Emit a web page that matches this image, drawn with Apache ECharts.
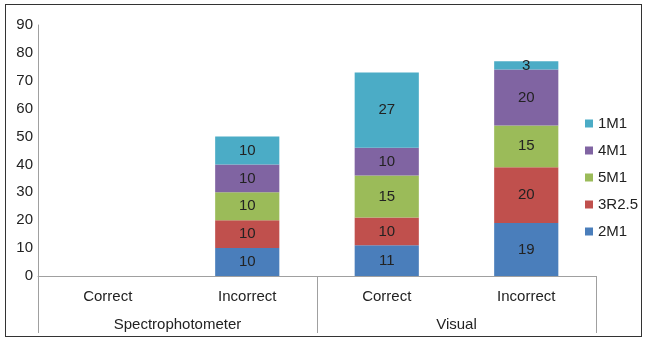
<!DOCTYPE html>
<html>
<head>
<meta charset="utf-8">
<script src="https://cdn.jsdelivr.net/npm/echarts@6/dist/echarts.min.js"></script>
<style>
  html, body { margin: 0; padding: 0; background: #fff; }
  #frame { position: absolute; left: 5px; top: 4px; width: 637px; height: 333px; border: 1px solid #333; box-sizing: border-box; }
  #main { position: absolute; left: 0; top: 0; width: 646px; height: 343px; }
</style>
</head>
<body>
<div id="frame"></div>
<div id="main"></div>
<script>
// categories
const methods = ['Correct', 'Incorrect', 'Correct', 'Incorrect'];
const groups = ['Spectrophotometer', 'Visual'];
const yTicks = [0, 90, 10];

// series values, bottom to top
const s2M1 = [0, 10, 11, 19];
const s3R25 = [0, 10, 10, 20];
const s5M1 = [0, 10, 15, 15];
const s4M1 = [0, 10, 10, 20];
const s1M1 = [0, 10, 27, 3];

const seriesList = [
    { name: '2M1', data: s2M1, color: '#4a7ebb' },
    { name: '3R2.5', data: s3R25, color: '#c0504d' },
    { name: '5M1', data: s5M1, color: '#9bbb59' },
    { name: '4M1', data: s4M1, color: '#8064a2' },
    { name: '1M1', data: s1M1, color: '#4bacc6' }
];

const chart = echarts.init(document.getElementById('main'));
const font = 'Liberation Sans, Arial, sans-serif';

chart.setOption({
    animation: false,
    textStyle: { fontFamily: font },
    grid: { left: 38, right: 50, top: 25, bottom: 67 },
    legend: {
        orient: 'vertical',
        left: 580,
        top: 111,
        itemWidth: 8,
        itemHeight: 8,
        itemGap: 12,
        icon: 'rect',
        data: ['1M1', '4M1', '5M1', '3R2.5', '2M1'],
        textStyle: { fontSize: 15, color: '#222', fontFamily: font }
    },
    xAxis: [
        {
            type: 'category',
            data: methods,
            axisLine: { lineStyle: { color: '#a0a0a0' } },
            axisTick: { show: false },
            axisLabel: { margin: 13, fontSize: 15, color: '#222', fontFamily: font }
        },
        {
            type: 'category',
            data: groups,
            position: 'bottom',
            axisLine: { show: false },
            axisTick: { show: true, length: 57, interval: 0, lineStyle: { color: '#a0a0a0' } },
            axisLabel: { margin: 41, fontSize: 15, color: '#222', fontFamily: font }
        }
    ],
    yAxis: {
        type: 'value',
        min: yTicks[0],
        max: yTicks[1],
        interval: yTicks[2],
        axisLine: { show: true, lineStyle: { color: '#a0a0a0' } },
        axisTick: { show: false },
        splitLine: { show: false },
        axisLabel: { margin: 5, fontSize: 15, color: '#222', fontFamily: font }
    },
    series: seriesList.map(s => ({
        name: s.name,
        type: 'bar',
        stack: 'total',
        barWidth: '46%',
        data: s.data,
        itemStyle: { color: s.color },
        label: {
            show: true,
            position: 'inside',
            fontSize: 15,
            color: '#222',
            fontFamily: font,
            formatter: p => (p.value ? p.value : '')
        }
    }))
});
</script>
</body>
</html>
